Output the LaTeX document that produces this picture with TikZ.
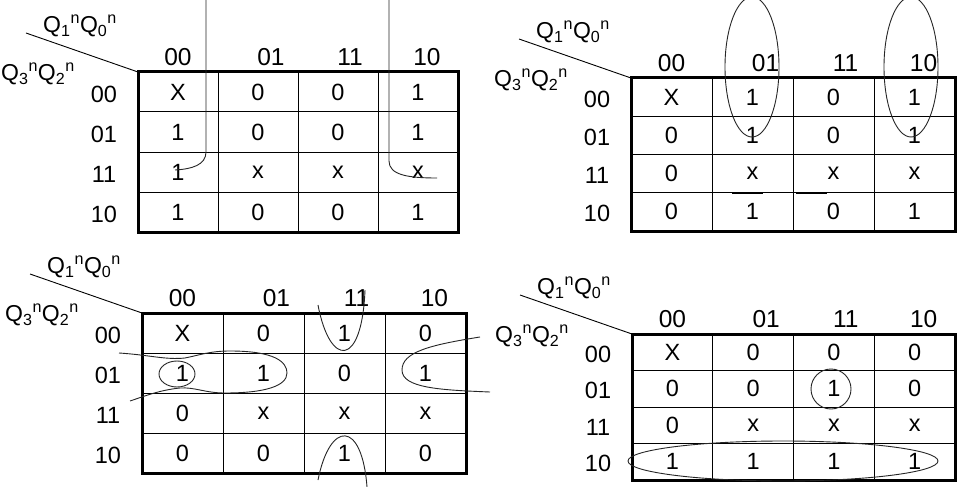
\documentclass[tikz,border=0pt]{standalone}
\usepackage{fontspec}
\setmainfont{Liberation Sans}
\newcommand\qpair[2]{Q\textsubscript{#1}\textsuperscript{n}Q\textsubscript{#2}\textsuperscript{n}}
% #1 name, #2/#3 top left corner, #4/#5 cell width/height, #6 rows
\newcommand\kmap[6]{%
    \begin{scope}[shift={(#2,#3)}]
        \foreach \i in {1,2,3} {
            \draw[style=cell line] ({\i*#4},0) -- ({\i*#4},{4*#5});
            \draw[style=cell line] (0,{\i*#5}) -- ({4*#4},{\i*#5});
        }
        \draw[style=frame] (0,0) coordinate (#1-corner) rectangle ({4*#4},{4*#5});
        \foreach \c/\ctext/\dx in {0/00/0,1/01/13,2/11/12,3/10/9}
            \node[style=head] (#1-col\c) at ({(\c+0.5)*#4+\dx},-15) {\ctext};
        \foreach \r/\rtext in {0/00,1/01,2/11,3/10}
            \node[style=digit] (#1-row\r) at (-34,{(\r+0.5)*#5+2}) {\rtext};
        \foreach \r/\a/\b/\cc/\d in {#6}
            \foreach \c/\v in {0/\a,1/\b,2/\cc,3/\d}
                \node[style=digit] (#1-\r\c) at ({(\c+0.5)*#4},{(\r+0.5)*#5}) {\v};
        \node[style=var] (#1-top) at (-58,-46) {\qpair{1}{0}};
        \node[style=var] (#1-side) at (-100,2) {\qpair{3}{2}};
        \coordinate (#1-tail) at (-112,-39);
        \draw[style=split] (#1-tail) -- (#1-corner);
    \end{scope}}
\begin{document}
\begin{tikzpicture}[x=1pt,y=-1pt]
        % Styles
        \tikzstyle{cell line}=[line width=1pt]
        \tikzstyle{frame}=[line width=3pt]
        \tikzstyle{split}=[line width=0.9pt]
        \tikzstyle{digit}=[inner sep=0pt,font=\fontsize{23.5}{27}\selectfont]
        \tikzstyle{head}=[inner sep=0pt,font=\fontsize{24.5}{28}\selectfont]
        \tikzstyle{var}=[inner sep=0pt,font=\fontsize{23}{26}\selectfont]
        \tikzstyle{loop}=[line width=0.9pt,black!85]
        \tikzstyle{tick line}=[line width=1.8pt]
        \useasboundingbox[fill=white] (0,0) rectangle (962,487);
        %maps
        \kmap{tl}{138}{72}{80}{40}{0/X/0/0/1,1/1/0/0/1,2/1/x/x/x,3/1/0/0/1}
        \kmap{tr}{631}{78}{81}{38.25}{0/X/1/0/1,1/0/1/0/1,2/0/x/x/x,3/0/1/0/1}
        \kmap{bl}{142}{313}{81}{40}{0/X/0/1/0,1/1/1/0/1,2/0/x/x/x,3/0/0/1/0}
        \kmap{br}{632}{334}{80.75}{36.5}{0/X/0/0/0,1/0/0/1/0,2/0/x/x/x,3/1/1/1/1}
        %groups
        \draw[style=loop] (206,0) -- (206,152) .. controls (206,165) and (192,169) .. (175,170);
        \draw[style=loop] (389,0) -- (389,161) .. controls (389,175) and (408,178) .. (437,178);
        \draw[style=loop] (752,67) ellipse [x radius=27pt, y radius=70pt];
        \draw[style=loop] (911,67) ellipse [x radius=27pt, y radius=70pt];
        \draw[style=tick line] (732,193) -- (763,193);
        \draw[style=tick line] (796,193) -- (827,193);
        \draw[style=loop] (318,305) .. controls (330,368) and (362,368) .. (365,290);
        \draw[style=loop] (318,480) .. controls (330,420) and (362,420) .. (367,487);
        \draw[style=loop] (177,374) ellipse [x radius=18pt, y radius=13pt];
        \draw[style=loop] (119,353) .. controls (150,355) and (165,360) .. (185,358)
            .. controls (200,355) and (210,351) .. (230,351)
            .. controls (275,351) and (287,362) .. (287,373)
            .. controls (287,386) and (265,393) .. (225,393)
            .. controls (205,393) and (195,387) .. (180,388)
            .. controls (160,390) and (145,396) .. (130,401);
        \draw[style=loop] (480,337) .. controls (430,345) and (402,352) .. (402,370)
            .. controls (402,388) and (440,390) .. (490,392);
        \draw[style=loop] (831,389) circle [radius=20pt];
        \draw[style=loop] (783,461) ellipse [x radius=155pt, y radius=20pt];
\end{tikzpicture}
\end{document}
